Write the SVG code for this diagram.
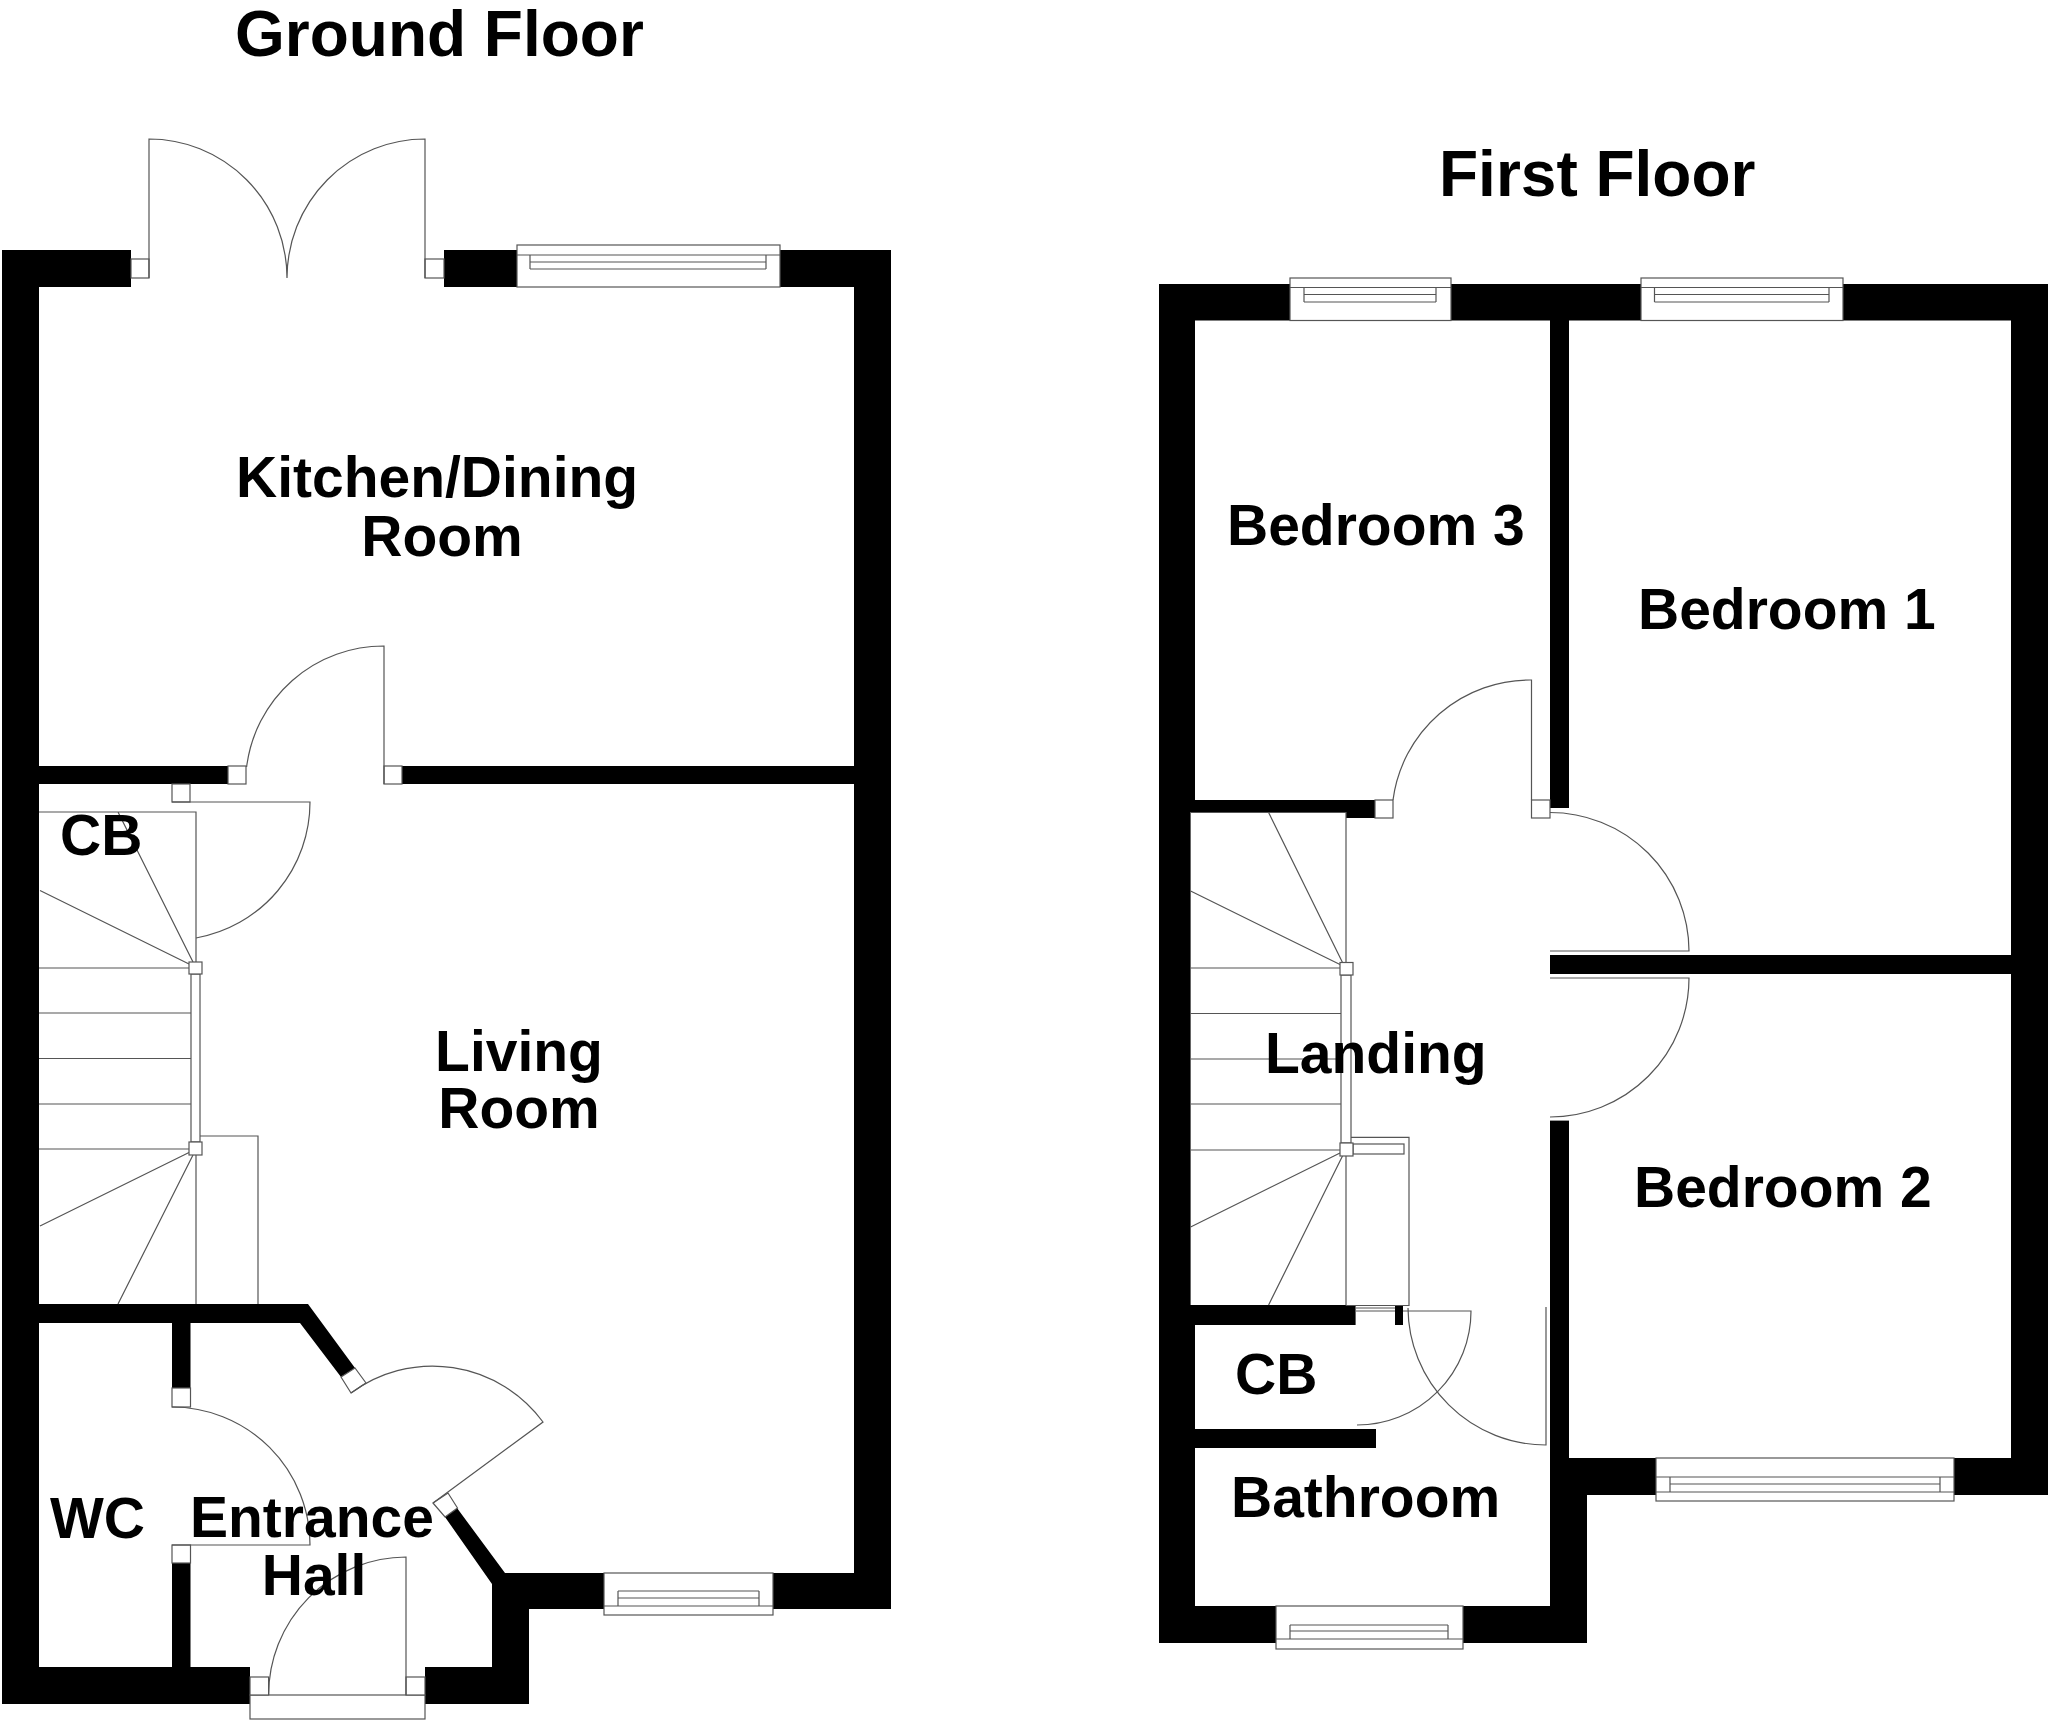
<svg xmlns="http://www.w3.org/2000/svg" width="2048" height="1724" viewBox="0 0 2048 1724">
<style>
.w{fill:#000;stroke:none}
.l{fill:none;stroke:#555;stroke-width:1.2}
.b{fill:#fff;stroke:#555;stroke-width:1.2}
text{font-family:"Liberation Sans",Arial,sans-serif;font-weight:700;font-size:57px;fill:#000}
.h{font-size:64px}
.m{text-anchor:middle}
</style>
<rect width="2048" height="1724" fill="#fff"/>
<g id="ground-floor">
<g id="ground-walls">
<rect class="w" x="2" y="250" width="37" height="1454"/>
<rect class="w" x="2" y="250" width="129" height="37"/>
<rect class="w" x="444" y="250" width="73" height="37"/>
<rect class="w" x="780" y="250" width="111" height="37"/>
<rect class="w" x="854" y="250" width="37" height="1359"/>
<rect class="w" x="773" y="1573" width="118" height="36"/>
<rect class="w" x="39" y="766" width="189" height="18"/>
<rect class="w" x="402" y="766" width="452" height="18"/>
<polygon class="w" points="39,1304 308,1304 355,1368 341,1377 300,1323 39,1323"/>
<rect class="w" x="172" y="1323" width="18.500" height="65"/>
<rect class="w" x="172" y="1563" width="18.500" height="104"/>
<rect class="w" x="2" y="1667" width="248" height="37"/>
<polygon class="w" points="425,1667 492,1667 492,1584 445,1517 457,1508 505,1573 604,1573 604,1609 529,1609 529,1704 425,1704"/>
</g>
<g id="ground-windows">
<rect class="b" x="517" y="245" width="263" height="42"/><path class="l" d="M517,255H780M530,255V269M766,255V269M530,262H766M530,269H766"/>
<rect class="b" x="604" y="1573" width="169" height="42"/><path class="l" d="M604,1606H773M618,1591V1606M759,1591V1606M618,1591H759M618,1598H759"/>
<rect class="b" x="250" y="1695" width="175" height="24"/>
</g>
<g id="ground-doors">
<rect class="b" x="131" y="259" width="18" height="19"/>
<rect class="b" x="425" y="259" width="19" height="19"/>
<path class="l" d="M149,278V139A138,139 0 0 1 287,278A138,139 0 0 1 425,139V278"/>
<rect class="b" x="228" y="766" width="18" height="18"/>
<rect class="b" x="384" y="766" width="18" height="18"/>
<path class="l" d="M384,784V646A138,138 0 0 0 246.600,767"/>
<rect class="b" x="172" y="784" width="18" height="18"/>
<path class="l" d="M172,802H310A138,138 0 0 1 196,938"/>
<rect class="b" x="172" y="1388" width="18.500" height="19"/>
<rect class="b" x="172" y="1545" width="18.500" height="18"/>
<path class="l" d="M172,1407A138,138 0 0 1 310,1545H172"/>
<rect class="b" x="250" y="1677" width="18.600" height="18"/>
<rect class="b" x="406" y="1677" width="19" height="18"/>
<path class="l" d="M406,1695V1557A138,138 0 0 0 268.600,1695"/>
<polygon class="b" points="341,1377 355,1368 366,1383 351,1393"/>
<polygon class="b" points="433,1503 448,1493 457.500,1508 445,1517"/>
<path class="l" d="M351,1393A137,137 0 0 1 543,1422L433,1503"/>
</g>
<g id="ground-stairs">
<path class="l" d="M39,812H196V962M39,968H191M39,1013H191M39,1058.500H191M39,1104H191M39,1149H191M193,962L118,812M189,964L40,890.500M189,1152.500L40,1226M193,1155L118,1304M196,1155V1304M200,1136H258V1304"/>
<rect class="b" x="191" y="974" width="9" height="168"/>
<rect class="b" x="189" y="962" width="13" height="12"/>
<rect class="b" x="189" y="1142" width="13" height="13"/>
</g>
</g>
<g id="first-floor">
<g id="first-walls">
<rect class="w" x="1159" y="284" width="889" height="36.500"/>
<rect class="w" x="1159" y="284" width="36" height="528"/>
<rect class="w" x="1159" y="812" width="31.600" height="494"/>
<rect class="w" x="1159" y="1306" width="36" height="337"/>
<rect class="w" x="2011" y="284" width="37" height="1211"/>
<rect class="w" x="1550" y="320" width="19" height="488"/>
<rect class="w" x="1195" y="800" width="180" height="12.500"/>
<rect class="w" x="1346" y="812" width="29" height="6"/>
<rect class="w" x="1550" y="955" width="461" height="19"/>
<rect class="w" x="1550" y="1120.600" width="19" height="375"/>
<rect class="w" x="1190" y="1305" width="165.600" height="20"/>
<rect class="w" x="1395" y="1306" width="8" height="19"/>
<rect class="w" x="1195" y="1429" width="181" height="19"/>
<rect class="w" x="1159" y="1606" width="428" height="37"/>
<rect class="w" x="1550" y="1458" width="37" height="185"/>
<rect class="w" x="1569" y="1458" width="87" height="37"/>
<rect class="w" x="1954" y="1458" width="94" height="37"/>
</g>
<g id="first-windows">
<rect class="b" x="1290" y="278" width="161" height="42.500"/><path class="l" d="M1290,287.500H1451M1304,287.500V302M1436,287.500V302M1304,294.500H1436M1304,302H1436"/>
<rect class="b" x="1641" y="278" width="202" height="42.500"/><path class="l" d="M1641,287.500H1843M1654.500,287.500V302M1829,287.500V302M1654.500,294.500H1829M1654.500,302H1829"/>
<rect class="b" x="1276" y="1606" width="187" height="43"/><path class="l" d="M1276,1639H1463M1290,1625V1639M1448,1625V1639M1290,1625H1448M1290,1631H1448"/>
<rect class="b" x="1656" y="1458" width="298" height="43"/><path class="l" d="M1656,1492H1954M1670,1477V1492M1940,1477V1492M1656,1477H1954M1670,1484H1940"/>
</g>
<g id="first-doors">
<rect class="b" x="1375" y="800" width="18" height="18"/>
<rect class="b" x="1531.500" y="800" width="18.500" height="18"/>
<path class="l" d="M1531.500,800V680A138,138 0 0 0 1393,800"/>
<path class="l" d="M1550,812.500A139,139 0 0 1 1689,951H1550"/>
<path class="l" d="M1550,978H1689A139,139 0 0 1 1550,1117"/>
<path class="l" d="M1356,1308H1395M1356,1311H1395M1403,1311H1471A114,114 0 0 1 1357,1425"/>
<path class="l" d="M1408,1308A138,138 0 0 0 1546,1445V1307"/>
</g>
<g id="first-stairs">
<path class="l" d="M1190.600,812.500H1346V963M1190.600,968H1341M1190.600,1013.500H1341M1190.600,1059H1341M1190.600,1104H1341M1190.600,1150H1341M1342.500,962.500L1268.600,812.500M1340,964.500L1190.600,891M1340,1153L1190.600,1227M1342.500,1156L1268.600,1305M1346,1156V1305.500M1351,1137.400H1409V1305.500H1346"/>
<rect class="b" x="1341" y="975" width="10" height="168"/>
<rect class="b" x="1353" y="1144" width="51" height="10"/>
<rect class="b" x="1340" y="962.500" width="13" height="12.500"/>
<rect class="b" x="1340" y="1143" width="13" height="13"/>
</g>
</g>
<g id="labels">
<text class="h" x="235" y="56">Ground Floor</text>
<text class="h" x="1439" y="196">First Floor</text>
<text x="236" y="497">Kitchen/Dining</text>
<text x="442" y="556" class="m">Room</text>
<text x="519" y="1071" class="m">Living</text>
<text x="519" y="1128" class="m">Room</text>
<text x="60" y="855">CB</text>
<text x="50" y="1538">WC</text>
<text x="312" y="1537" class="m">Entrance</text>
<text x="314" y="1595" class="m">Hall</text>
<text x="1227" y="545">Bedroom 3</text>
<text x="1638" y="629">Bedroom 1</text>
<text x="1634" y="1207">Bedroom 2</text>
<text x="1265" y="1073">Landing</text>
<text x="1235" y="1394">CB</text>
<text x="1231" y="1517">Bathroom</text>
</g>
</svg>
